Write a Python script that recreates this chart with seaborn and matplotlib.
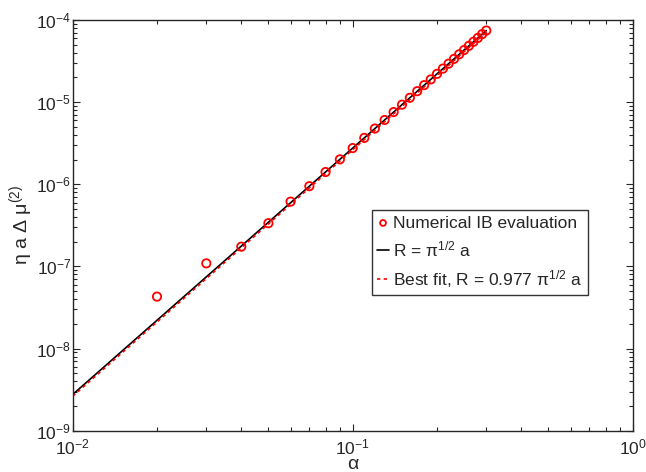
import numpy as np
import pandas as pd
import seaborn as sns
import matplotlib
matplotlib.use("Agg")
import matplotlib.pyplot as plt

# numerical IB evaluation
alpha = [0.02, 0.03, 0.04, 0.05, 0.06, 0.07, 0.08, 0.09, 0.10, 0.11,
         0.12, 0.13, 0.14, 0.15, 0.16, 0.17, 0.18, 0.19, 0.20, 0.21,
         0.22, 0.23, 0.24, 0.25, 0.26, 0.27, 0.28, 0.29, 0.30]
mu2 = [4.29e-8, 1.09e-7, 1.74e-7, 3.36e-7, 6.15e-7, 9.47e-7, 1.41e-6, 2.01e-6,
       2.76e-6, 3.67e-6, 4.77e-6, 6.06e-6, 7.57e-6, 9.32e-6, 1.13e-5, 1.36e-5,
       1.61e-5, 1.89e-5, 2.21e-5, 2.56e-5, 2.94e-5, 3.36e-5, 3.82e-5, 4.31e-5,
       4.85e-5, 5.43e-5, 6.06e-5, 6.73e-5, 7.45e-5]

# straight lines on log-log axes, endpoints only
line_alpha = [0.01, 0.30]
theory = [2.76e-9, 7.45e-5]
best_fit = [2.63e-9, 7.10e-5]

sns.set_style("ticks")
plt.rcParams['font.family'] = ['Liberation Sans', 'DejaVu Sans']
plt.rcParams['mathtext.fontset'] = 'custom'
plt.rcParams['mathtext.rm'] = 'Liberation Sans'
plt.rcParams['mathtext.it'] = 'Liberation Sans'
plt.rcParams['mathtext.sf'] = 'Liberation Sans'
plt.rcParams['mathtext.default'] = 'regular'

fig = plt.figure(figsize=(6.46, 4.72), dpi=100)
ax = fig.add_axes([72.7 / 646, 41.3 / 472, 560 / 646, 410.7 / 472])

pts = pd.DataFrame({"alpha": alpha, "mu2": mu2})
lines = pd.DataFrame({"alpha": line_alpha, "theory": theory, "fit": best_fit})

sns.scatterplot(data=pts, x="alpha", y="mu2", ax=ax, marker="o", s=36,
                facecolor="none", edgecolor="red", linewidth=1.3,
                label="Numerical IB evaluation", zorder=3)
sns.lineplot(data=lines, x="alpha", y="theory", ax=ax, color="black",
             linewidth=1.2, estimator=None, label=r"R = $\pi^{1/2}$ a")
sns.lineplot(data=lines, x="alpha", y="fit", ax=ax, color="red",
             linewidth=1.2, estimator=None, linestyle=(0, (2, 2)),
             label=r"Best fit, R = 0.977 $\pi^{1/2}$ a")

ax.set_xscale("log")
ax.set_yscale("log")
ax.set_xlim(1e-2, 1e0)
ax.set_ylim(1e-9, 1e-4)

ax.tick_params(which="both", direction="in", top=True, right=True,
               labelsize=12.5, width=0.8)
ax.tick_params(which="major", length=5)
ax.tick_params(which="minor", length=3)
ax.tick_params(axis="x", which="major", pad=5)
ax.tick_params(axis="y", which="major", pad=1)
for s in ax.spines.values():
    s.set_linewidth(1.0)

ax.set_xlabel("α", fontsize=14, labelpad=-1)
ax.set_ylabel(r"η a Δ $\mu^{(2)}$", fontsize=14, labelpad=1)

leg = ax.legend(loc="upper left", bbox_to_anchor=(0.534, 0.537),
                fontsize=12.5, frameon=True, fancybox=False, edgecolor="black",
                handlelength=0.7, handletextpad=0.25, borderpad=0.3,
                labelspacing=0.5, borderaxespad=0, markerscale=0.7)
leg.get_frame().set_linewidth(1.0)

fig.savefig("out.png", dpi=100)
